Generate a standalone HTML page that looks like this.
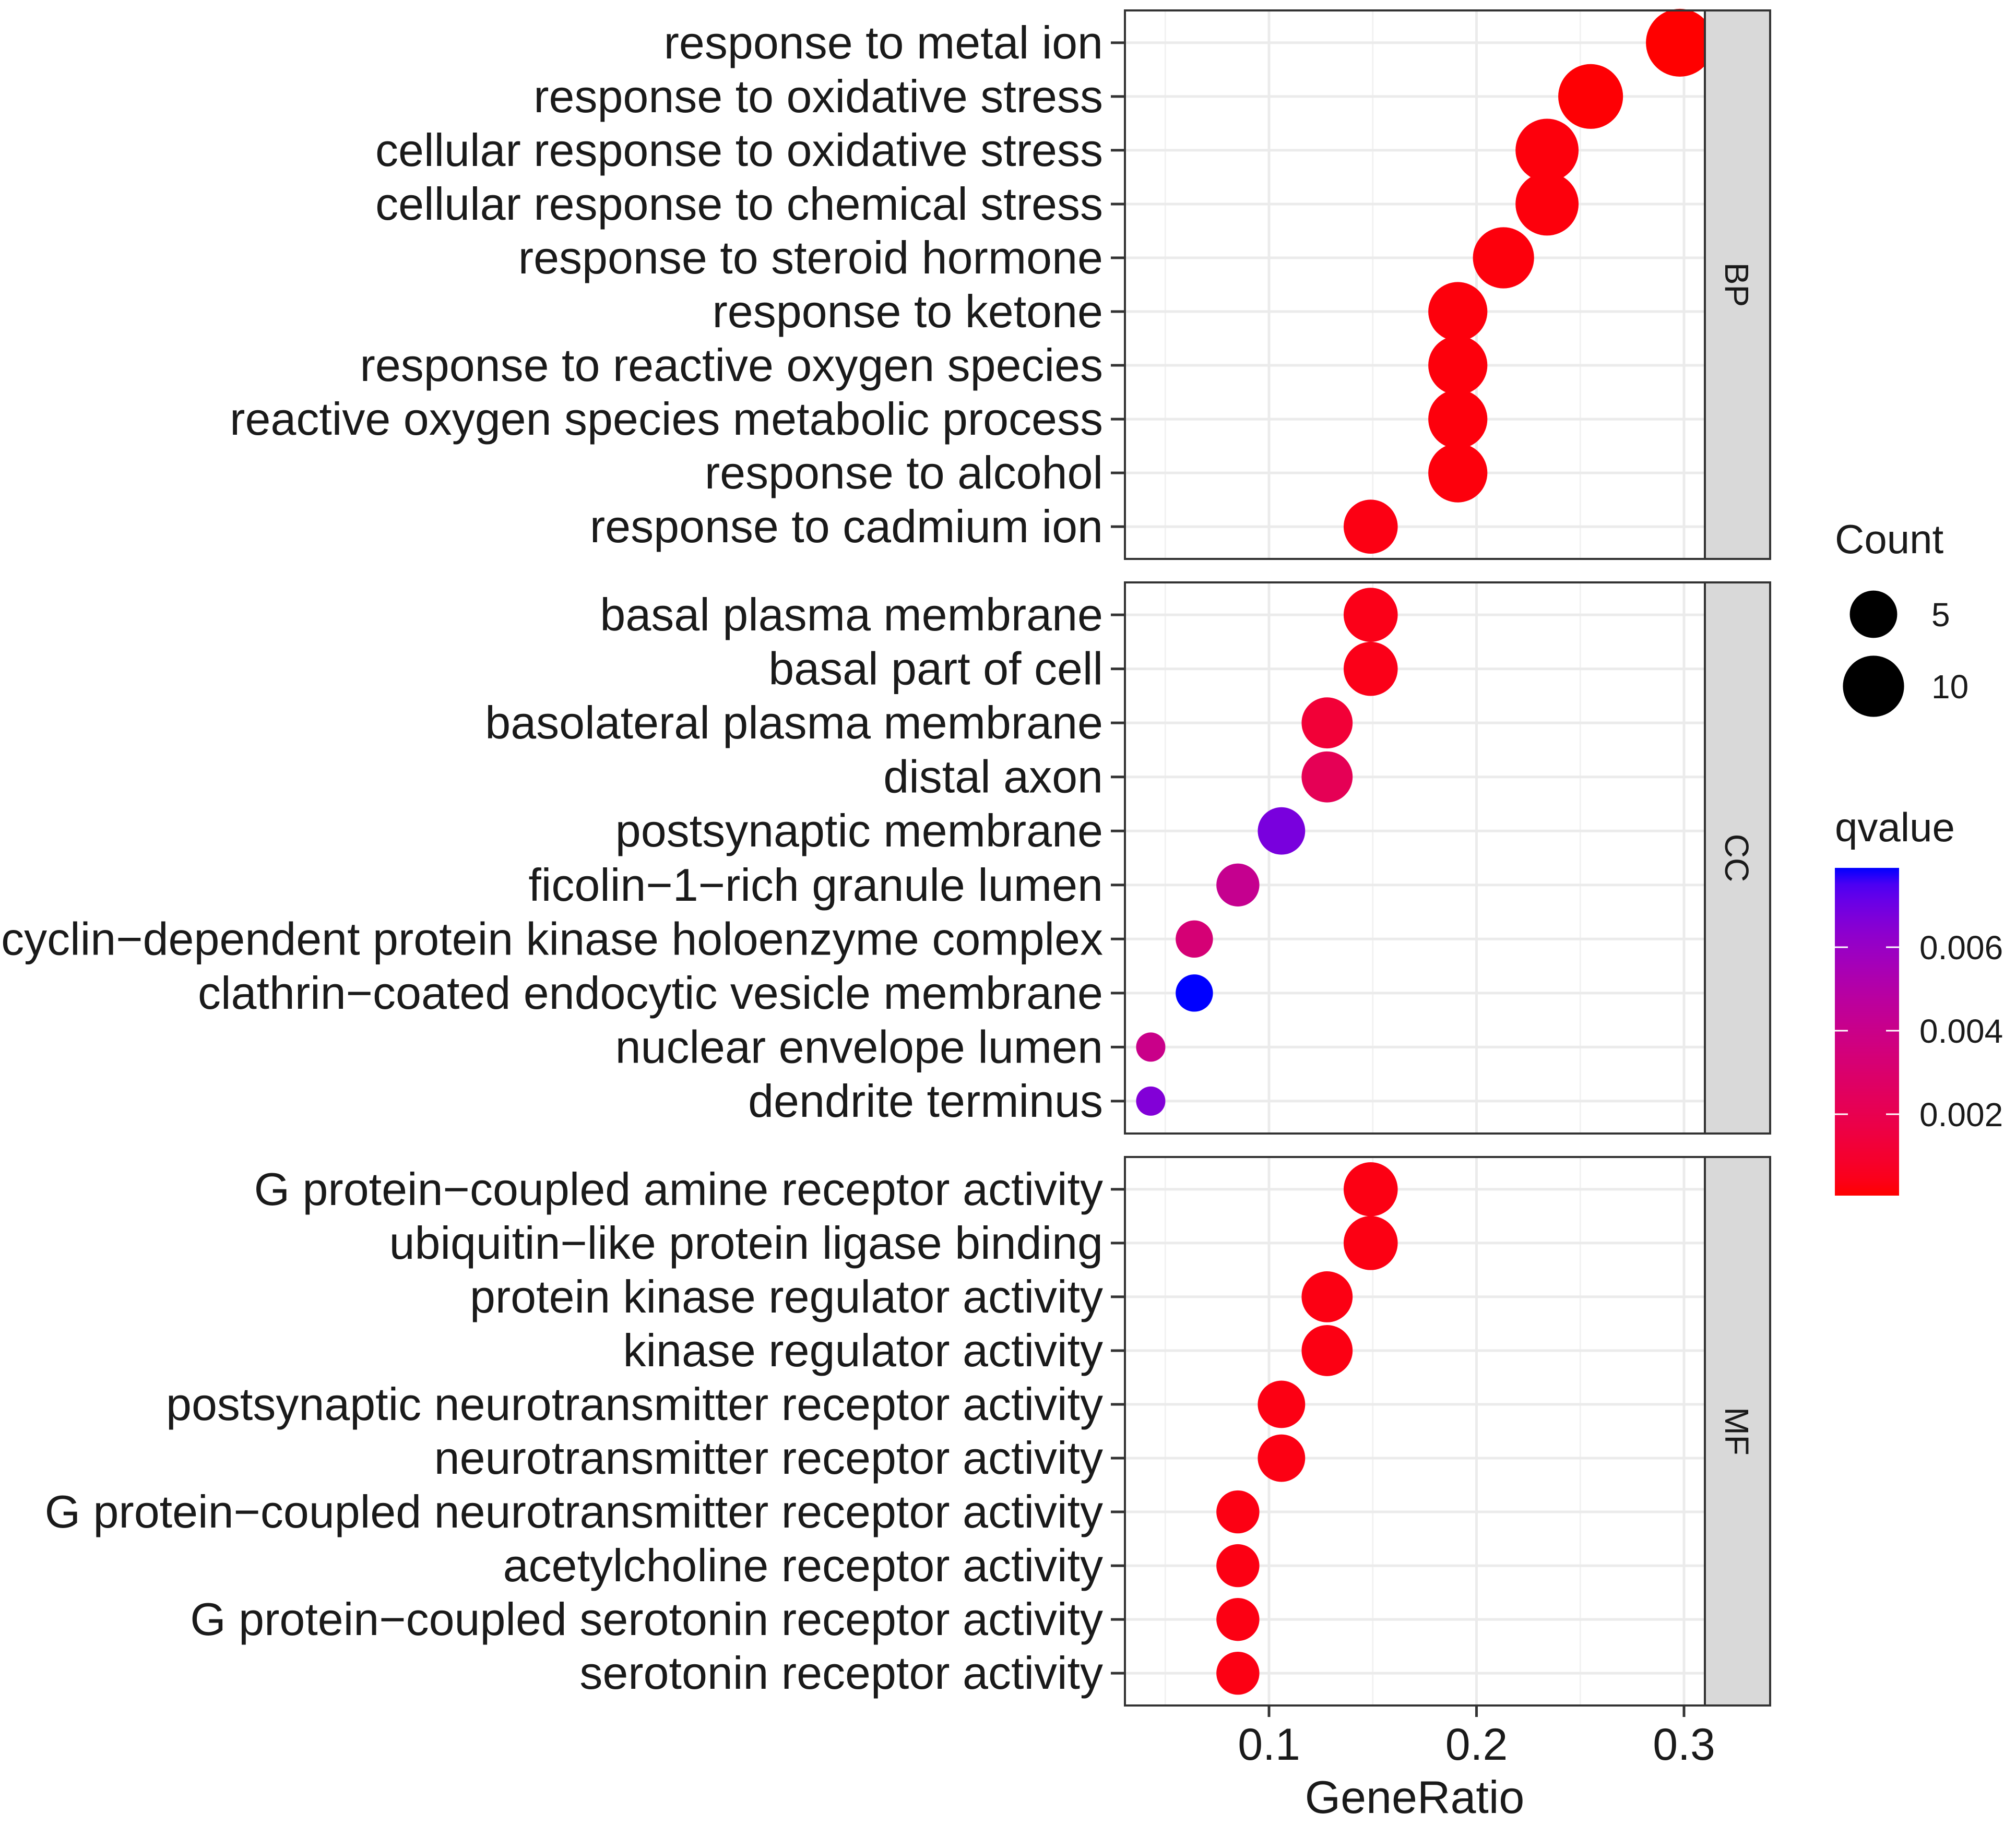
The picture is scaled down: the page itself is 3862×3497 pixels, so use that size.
<!DOCTYPE html>
<html><head><meta charset="utf-8"><style>
html,body{margin:0;padding:0;background:#fff;}
svg{display:block;font-family:"Liberation Sans",Arial,sans-serif;}
</style></head><body>
<svg id="chart" width="3862" height="3497" viewBox="0 0 3862 3497" xmlns="http://www.w3.org/2000/svg"></svg>
<script>
const facets = ["BP","CC","MF"];
const bpTerms = ["response to metal ion","response to oxidative stress","cellular response to oxidative stress","cellular response to chemical stress","response to steroid hormone","response to ketone","response to reactive oxygen species","reactive oxygen species metabolic process","response to alcohol","response to cadmium ion"];
const bpRatio = [0.298,0.255,0.234,0.234,0.213,0.191,0.191,0.191,0.191,0.149];
const bpCount = [14,12,11,11,10,9,9,9,9,7];
const bpQ = [0.00005,0.0001,0.0002,0.0002,0.0002,0.0002,0.0002,0.0002,0.0002,0.0003];
const ccTerms = ["basal plasma membrane","basal part of cell","basolateral plasma membrane","distal axon","postsynaptic membrane","ficolin\u22121\u2212rich granule lumen","cyclin\u2212dependent protein kinase holoenzyme complex","clathrin\u2212coated endocytic vesicle membrane","nuclear envelope lumen","dendrite terminus"];
const ccRatio = [0.149,0.149,0.128,0.128,0.106,0.085,0.064,0.064,0.043,0.043];
const ccCount = [7,7,6,6,5,4,3,3,2,2];
const ccQ = [0.0004,0.0004,0.0012,0.0022,0.0068,0.0042,0.0033,0.0079,0.004,0.0066];
const mfTerms = ["G protein\u2212coupled amine receptor activity","ubiquitin\u2212like protein ligase binding","protein kinase regulator activity","kinase regulator activity","postsynaptic neurotransmitter receptor activity","neurotransmitter receptor activity","G protein\u2212coupled neurotransmitter receptor activity","acetylcholine receptor activity","G protein\u2212coupled serotonin receptor activity","serotonin receptor activity"];
const mfRatio = [0.149,0.149,0.128,0.128,0.106,0.106,0.085,0.085,0.085,0.085];
const mfCount = [7,7,6,6,5,5,4,4,4,4];
const mfQ = [0.0003,0.0003,0.0003,0.0003,0.0003,0.0003,0.0003,0.0003,0.0003,0.0003];
const xTicks = [0.1,0.2,0.3];
const xMinor = [0.05,0.15,0.25];
const sizeBreaks = [5,10];
const qTicks = [0.002,0.004,0.006];
const qMin = 0.00005, qMax = 0.0079;

const NS="http://www.w3.org/2000/svg";
const svg=document.getElementById('chart');
function mk(tag,attrs,parent){const e=document.createElementNS(NS,tag);for(const k in attrs)e.setAttribute(k,attrs[k]);(parent||svg).appendChild(e);return e;}
const PL=2155, PR=3266, SR=3391;
const panels=[[20,1071],[1116,2172],[2217,3268]];
function xs(v){return 2431+(v-0.1)*3975;}
function dia(c){return 29.7+38*Math.log(c);}
function s2l(c){c/=255;return c<=0.04045?c/12.92:Math.pow((c+0.055)/1.055,2.4);}
function l2s(c){c=c<=0.0031308?12.92*c:1.055*Math.pow(c,1/2.4)-0.055;return Math.round(Math.max(0,Math.min(1,c))*255);}
function toLab(r,g,b){r=s2l(r);g=s2l(g);b=s2l(b);let X=(r*0.4124+g*0.3576+b*0.1805)/0.95047,Y=r*0.2126+g*0.7152+b*0.0722,Z=(r*0.0193+g*0.1192+b*0.9505)/1.08883;const f=t=>t>0.008856?Math.cbrt(t):7.787*t+16/116;X=f(X);Y=f(Y);Z=f(Z);return[116*Y-16,500*(X-Y),200*(Y-Z)];}
function fromLab(L,a,b){let Y=(L+16)/116,X=a/500+Y,Z=Y-b/200;const fi=t=>t*t*t>0.008856?t*t*t:(t-16/116)/7.787;X=fi(X)*0.95047;Y=fi(Y);Z=fi(Z)*1.08883;const r=X*3.2406+Y*-1.5372+Z*-0.4986,g=X*-0.9689+Y*1.8758+Z*0.0415,bb=X*0.0557+Y*-0.2040+Z*1.0570;return`rgb(${l2s(r)},${l2s(g)},${l2s(bb)})`;}
const LR=toLab(255,0,0),LB=toLab(0,0,255);
function col(q){let t=(q-qMin)/(qMax-qMin);t=Math.max(0,Math.min(1,t));return fromLab(LR[0]+(LB[0]-LR[0])*t,LR[1]+(LB[1]-LR[1])*t,LR[2]+(LB[2]-LR[2])*t);}

const data=[[bpTerms,bpRatio,bpCount,bpQ],[ccTerms,ccRatio,ccCount,ccQ],[mfTerms,mfRatio,mfCount,mfQ]];
data.forEach((d,pi)=>{
  const [top,bot]=panels[pi];const h=bot-top;const n=d[0].length;const step=h/(n+0.2);
  const g=mk('g',{});
  
  
  mk('rect',{x:PL,y:top,width:PR-PL,height:h,fill:'#fff'},g);
  xMinor.forEach(v=>{mk('line',{x1:xs(v),x2:xs(v),y1:top,y2:bot,stroke:'#f2f2f2','stroke-width':3},g);});
  xTicks.forEach(v=>{mk('line',{x1:xs(v),x2:xs(v),y1:top,y2:bot,stroke:'#ebebeb','stroke-width':5},g);});
  const ys=i=>top+(0.6+i)*step;
  d[0].forEach((t,i)=>{mk('line',{x1:PL,x2:PR,y1:ys(i),y2:ys(i),stroke:'#ebebeb','stroke-width':5},g);});
  d[0].forEach((t,i)=>{
    const c=mk('circle',{cx:xs(d[1][i]),cy:ys(i),r:dia(d[2][i])/2,fill:col(d[3][i])},g);
    
    
    mk('line',{x1:2128,x2:PL,y1:ys(i),y2:ys(i),stroke:'#333','stroke-width':5},g);
    const tx=mk('text',{x:2113,y:ys(i)+30,'text-anchor':'end','font-size':88,fill:'#1a1a1a'},g);
    tx.textContent=t;
    
    
  });
  mk('rect',{x:PR,y:top,width:SR-PR,height:h,fill:'#d9d9d9'},g);
  mk('rect',{x:PL,y:top,width:SR-PL,height:h,fill:'none',stroke:'#333','stroke-width':4},g);
  mk('line',{x1:PR,x2:PR,y1:top,y2:bot,stroke:'#333','stroke-width':4},g);
  const st=mk('text',{x:3305,y:(top+bot)/2,'text-anchor':'middle','font-size':64,fill:'#1a1a1a',transform:`rotate(90 3305 ${(top+bot)/2})`},g);
  st.textContent=facets[pi];
  
  
});
xTicks.forEach(v=>{
  mk('line',{x1:xs(v),x2:xs(v),y1:3268,y2:3290,stroke:'#333','stroke-width':5});
  const t=mk('text',{x:xs(v),y:3372,'text-anchor':'middle','font-size':86,fill:'#1a1a1a'});
  t.textContent=String(v);
  
  
});
const xt=mk('text',{x:2710,y:3474,'text-anchor':'middle','font-size':88,fill:'#1a1a1a'});
xt.textContent='GeneRatio';


const ct=mk('text',{x:3515,y:1060,'font-size':78,fill:'#1a1a1a'});ct.textContent='Count';


const legY=[1177,1315];
sizeBreaks.forEach((b,i)=>{
  const c=mk('circle',{cx:3589,cy:legY[i],r:dia(b)/2,fill:'#000'});
  
  
  const t=mk('text',{x:3700,y:legY[i]+23,'font-size':64,fill:'#1a1a1a'});t.textContent=String(b);
  
  
});
const qt=mk('text',{x:3515,y:1612,'font-size':78,fill:'#1a1a1a'});qt.textContent='qvalue';


const CBT=1663,CBB=2291,CBL=3515,CBR=3638;
const defs=mk('defs',{});const lg=mk('linearGradient',{id:'qg',x1:0,y1:1,x2:0,y2:0},defs);
for(let i=0;i<=20;i++){mk('stop',{offset:i/20,'stop-color':col(qMin+(qMax-qMin)*i/20)},lg);}
const cb=mk('rect',{x:CBL,y:CBT,width:CBR-CBL,height:CBB-CBT,fill:'url(#qg)'});


const qy=q=>CBB-(q-qMin)/(qMax-qMin)*(CBB-CBT);
qTicks.forEach(q=>{
  mk('line',{x1:CBL,x2:CBL+25,y1:qy(q),y2:qy(q),stroke:'#fff','stroke-width':3});
  mk('line',{x1:CBR-25,x2:CBR,y1:qy(q),y2:qy(q),stroke:'#fff','stroke-width':3});
  const t=mk('text',{x:3677,y:qy(q)+23,'font-size':64,fill:'#1a1a1a'});t.textContent=q.toFixed(3);
  
  
});
</script>
</body></html>
